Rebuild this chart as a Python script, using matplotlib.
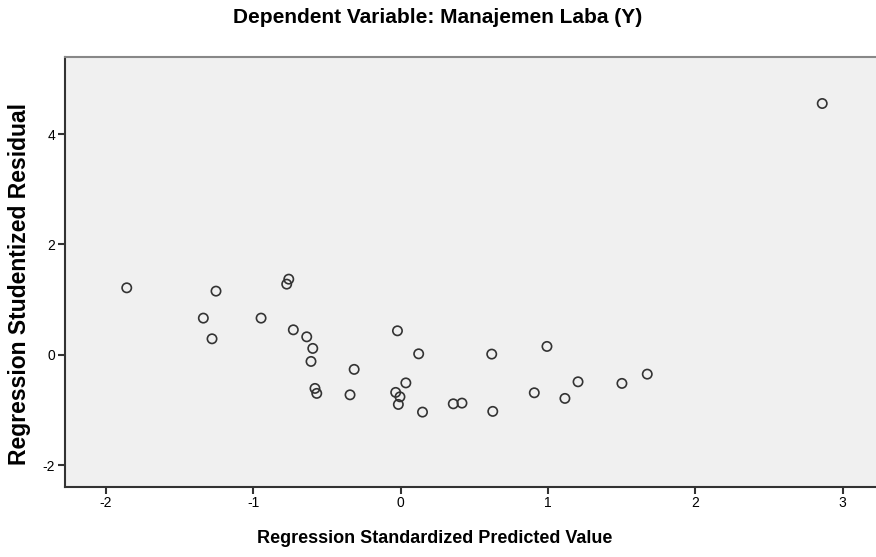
import matplotlib
matplotlib.use('Agg')
import matplotlib.pyplot as plt

# Regression standardized predicted value vs studentized residual
pred = [-1.860, -1.254, -0.760, -0.774, -1.340, -0.948, -1.281, -0.729, -0.638, -0.597,
        -0.609, -0.316, -0.022, 0.122, -0.582, -0.570, -0.344, 0.035, -0.034, -0.005,
        -0.016, 0.148, 0.618, 0.993, 0.357, 0.416, 0.625, 0.907, 1.115, 1.204,
        1.502, 1.674, 2.862]
resid = [1.214, 1.154, 1.371, 1.281, 0.665, 0.665, 0.290, 0.453, 0.326, 0.116,
         -0.120, -0.264, 0.435, 0.018, -0.609, -0.699, -0.725, -0.509, -0.681, -0.761,
         -0.899, -1.038, 0.013, 0.152, -0.888, -0.875, -1.025, -0.688, -0.790, -0.489,
         -0.518, -0.350, 4.554]
x_ticks = [-2, -1, 0, 1, 2, 3]
y_ticks = [-2, 0, 2, 4]

plt.rcParams['font.family'] = ['Liberation Sans', 'DejaVu Sans']

fig = plt.figure(figsize=(8.76, 5.57), dpi=100)
ax = fig.add_axes([0.0739, 0.1262, 0.9261, 0.7718])
ax.set_facecolor('#f0f0f0')

ax.scatter(pred, resid, s=45, facecolors='none', edgecolors='#333333', linewidths=1.2, zorder=3)

ax.set_xlim(-2.281, 3.227)
ax.set_ylim(-2.39, 5.40)
ax.set_xticks(x_ticks)
ax.set_yticks(y_ticks)
ax.set_xticklabels([str(t) for t in x_ticks], fontsize=10)
ax.set_yticklabels([str(t) for t in y_ticks], fontsize=10)
ax.tick_params(direction='out', length=5, width=1.5, color='#333333', pad=2)

for side in ['left', 'bottom']:
    ax.spines[side].set_color('#333333')
    ax.spines[side].set_linewidth(1.5)
ax.spines['top'].set_color('#888888')
ax.spines['top'].set_linewidth(1.5)
ax.spines['right'].set_visible(False)

fig.text(0.4995, 0.969, 'Dependent Variable: Manajemen Laba (Y)', ha='center', va='center',
         fontsize=15, fontweight='bold')
fig.text(0.4966, 0.034, 'Regression Standardized Predicted Value', ha='center', va='center',
         fontsize=13, fontweight='bold')
fig.text(0.022, 0.49, 'Regression Studentized Residual', ha='center', va='center', rotation=90,
         fontsize=16.5, fontweight='bold')

fig.savefig('out.png', dpi=100)
